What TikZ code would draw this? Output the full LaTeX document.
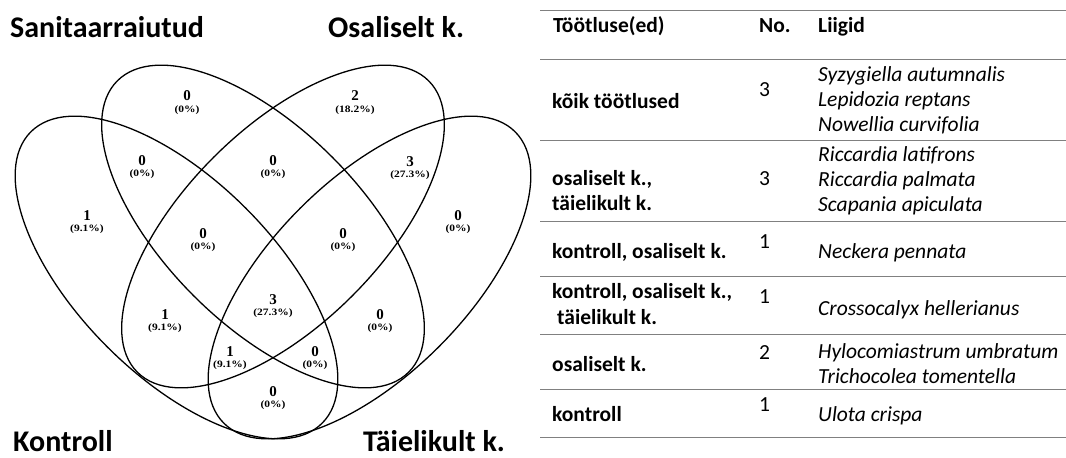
\documentclass[tikz,border=0pt]{standalone}
\usepackage{fontspec}
\setmainfont{Carlito}
\newfontfamily\vennfont{Liberation Serif}
\newcommand{\squash}[1]{\scalebox{1}[0.85]{#1}}
\begin{document}
\begin{tikzpicture}[x=1pt,y=-1pt,
  ell/.style={line width=1.3pt},
  num/.style={font=\vennfont\bfseries\fontsize{15}{15}\selectfont, inner sep=0pt},
  pct/.style={font=\vennfont\bfseries\fontsize{11.5}{12}\selectfont, inner sep=0pt},
  cat/.style={font=\bfseries\fontsize{30}{32}\selectfont, inner sep=0pt, anchor=base west},
  th/.style={font=\bfseries\fontsize{21.5}{25}\selectfont, inner sep=0pt, anchor=base west},
  td/.style={font=\fontsize{21.5}{25}\selectfont, inner sep=0pt, anchor=base west},
  sp/.style={font=\itshape\fontsize{21.5}{25}\selectfont, inner sep=0pt, anchor=base west},
  tabrule/.style={draw=black!50, line width=1.4pt}
]
\useasboundingbox (0,0) rectangle (1066,458);

% ellipses
\draw[ell, rotate around={-45:(176.5,277.5)}] (176.5,277.5) ellipse [x radius=206pt, y radius=98pt];
\draw[ell, rotate around={-45:(263,226.5)}] (263,226.5) ellipse [x radius=206pt, y radius=98pt];
\draw[ell, rotate around={45:(283,226.5)}] (283,226.5) ellipse [x radius=206pt, y radius=98pt];
\draw[ell, rotate around={45:(369.5,277.5)}] (369.5,277.5) ellipse [x radius=206pt, y radius=98pt];

% region labels
\node[num] (n1) at (187,96) {0};   \node[pct] (p1) at (187,110) {\squash{(0\%)}};
\node[num] (n2) at (355,96) {2};   \node[pct] (p2) at (355,110) {\squash{(18.2\%)}};
\node[num] (n3) at (142,161) {0};  \node[pct] (p3) at (142,174) {\squash{(0\%)}};
\node[num] (n4) at (273,161) {0};  \node[pct] (p4) at (273,174) {\squash{(0\%)}};
\node[num] (n5) at (410,162) {3};  \node[pct] (p5) at (410,175) {\squash{(27.3\%)}};
\node[num] (n6) at (87,216) {1};   \node[pct] (p6) at (87,229) {\squash{(9.1\%)}};
\node[num] (n7) at (458,216) {0};  \node[pct] (p7) at (458,229) {\squash{(0\%)}};
\node[num] (n8) at (203,234) {0};  \node[pct] (p8) at (203,247) {\squash{(0\%)}};
\node[num] (n9) at (343,234) {0};  \node[pct] (p9) at (343,247) {\squash{(0\%)}};
\node[num] (n10) at (273,300) {3}; \node[pct] (p10) at (273,313) {\squash{(27.3\%)}};
\node[num] (n11) at (165,315) {1}; \node[pct] (p11) at (165,328) {\squash{(9.1\%)}};
\node[num] (n12) at (380,315) {0}; \node[pct] (p12) at (380,328) {\squash{(0\%)}};
\node[num] (n13) at (230,352) {1}; \node[pct] (p13) at (230,365) {\squash{(9.1\%)}};
\node[num] (n14) at (315,352) {0}; \node[pct] (p14) at (315,365) {\squash{(0\%)}};
\node[num] (n15) at (273,392) {0}; \node[pct] (p15) at (273,405) {\squash{(0\%)}};

% category labels
\node[cat] (c1) at (10,37) {Sanitaarraiutud};
\node[cat] (c2) at (328,37) {Osaliselt k.};
\node[cat] (c3) at (13,451) {Kontroll};
\node[cat] (c4) at (363,451) {Täielikult k.};

% table rules
\foreach \yy in {10.7,59.3,140.7,221.7,276.3,334.7,389.7,437.3}
  \draw[tabrule] (540,\yy) -- (1066,\yy);

% header
\node[th] (h1) at (553,32.3) {Töötluse(ed)};
\node[th] (h2) at (759,32.3) {No.};
\node[th] (h3) at (818,32.3) {Liigid};

% row 1
\node[th] (r1a) at (552,108) {kõik töötlused};
\node[td] (r1b) at (759,96.7) {3};
\node[sp] (r1c) at (818,81.7) {Syzygiella autumnalis};
\node[sp] (r1d) at (818,106.5) {Lepidozia reptans};
\node[sp] (r1e) at (818,131.5) {Nowellia curvifolia};

% row 2
\node[th] (r2a) at (552,185) {osaliselt k.,};
\node[th] (r2b) at (552,210) {täielikult k.};
\node[td] (r2c) at (759,185) {3};
\node[sp] (r2d) at (818,161.7) {Riccardia latifrons};
\node[sp] (r2e) at (818,186.7) {Riccardia palmata};
\node[sp] (r2f) at (818,211.7) {Scapania apiculata};

% row 3
\node[th] (r3a) at (552,258) {kontroll, osaliselt k.};
\node[td] (r3b) at (759,248) {1};
\node[sp] (r3c) at (818,258) {Neckera pennata};

% row 4
\node[th] (r4a) at (552,298) {kontroll, osaliselt k.,};
\node[th] (r4b) at (557,324.7) {täielikult k.};
\node[td] (r4c) at (759,303) {1};
\node[sp] (r4d) at (818,315.3) {Crossocalyx hellerianus};

% row 5
\node[th] (r5a) at (552,371.3) {osaliselt k.};
\node[td] (r5b) at (759,359.7) {2};
\node[sp] (r5c) at (818,358) {Hylocomiastrum umbratum};
\node[sp] (r5d) at (818,383) {Trichocolea tomentella};

% row 6
\node[th] (r6a) at (552,421.3) {kontroll};
\node[td] (r6b) at (759,411.3) {1};
\node[sp] (r6c) at (818,421.3) {Ulota crispa};
\end{tikzpicture}
\end{document}
